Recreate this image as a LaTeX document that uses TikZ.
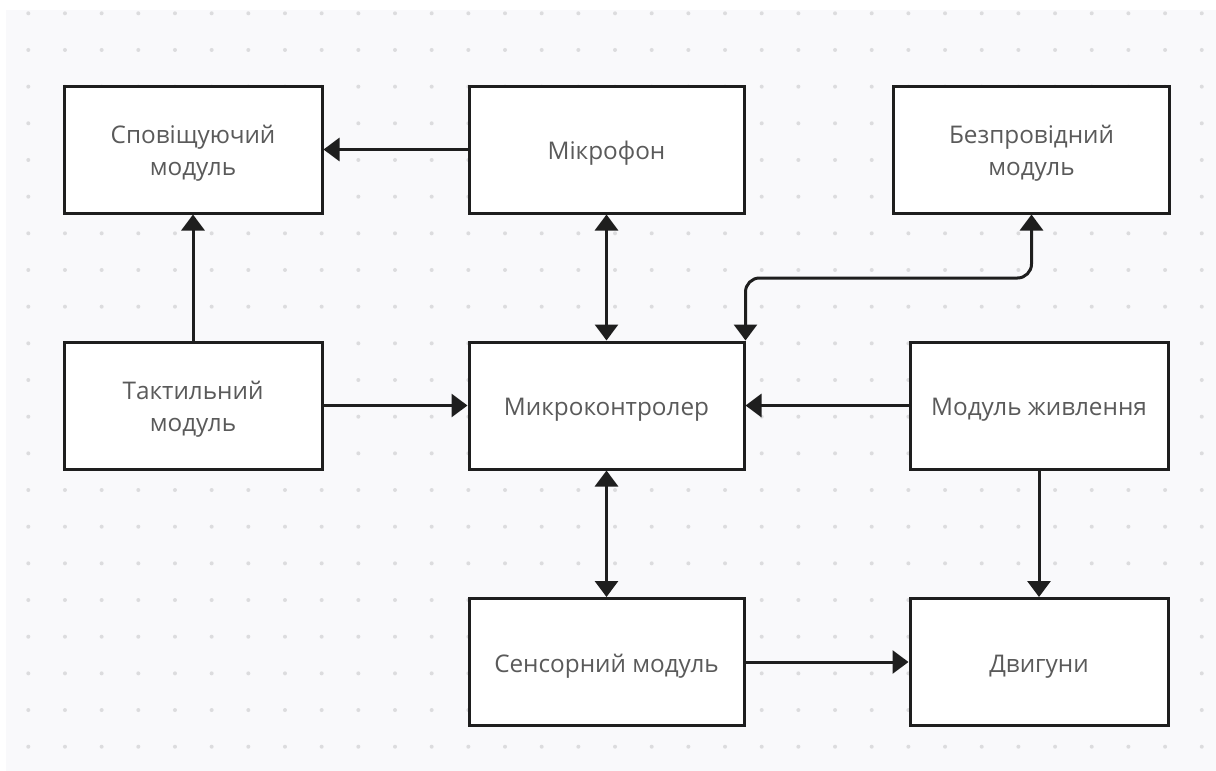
\documentclass[tikz,border=0pt]{standalone}
\usepackage{fontspec}
\setmainfont{Open Sans}
\usetikzlibrary{arrows.meta}
\definecolor{bg}{HTML}{F9F9FB}
\definecolor{dotc}{HTML}{DCDCDE}
\definecolor{txt}{HTML}{5A5A5A}
\definecolor{ln}{HTML}{1E1E1E}
\newcommand\boxlbl[1]{\raisebox{-3.6pt}[\height][\depth]{\begin{tabular}{@{}c@{}}#1\end{tabular}}}
\begin{document}
\begin{tikzpicture}[x=1pt,y=-1pt,
  box/.style={draw=ln,line width=3pt,fill=white,text=txt,
    font=\fontsize{24.3}{32}\selectfont,minimum height=127pt,inner sep=0pt},
  conn/.style={draw=ln,line width=3pt,-{Triangle[length=16pt,width=23pt]}},
  biconn/.style={draw=ln,line width=3pt,{Triangle[length=16pt,width=23pt]}-{Triangle[length=16pt,width=23pt]}}]
\useasboundingbox (0,0) rectangle (1216,771);
\fill[white] (0,0) rectangle (1216,771);
\fill[bg] (6,10) rectangle (1216,771);
\foreach \i in {0,...,32}{\foreach \j in {0,...,20}{\fill[dotc] (28.3+36.67*\i,13.3+36.67*\j) circle[radius=2pt];}}

\node[box,minimum width=258pt] (spov) at (193,149.5) {\boxlbl{Сповіщуючий\\модуль}};
\node[box,minimum width=275pt] (mic) at (606.5,149.5) {\boxlbl{Мікрофон}};
\node[box,minimum width=276pt] (wifi) at (1031.5,149.5) {\boxlbl{Безпровідний\\модуль}};
\node[box,minimum width=258pt] (takt) at (193,405.5) {\boxlbl{Тактильний\\модуль}};
\node[box,minimum width=275pt] (mcu) at (606.5,405.5) {\boxlbl{Микроконтролер}};
\node[box,minimum width=258pt] (power) at (1039,405.5) {\boxlbl{Модуль живлення}};
\node[box,minimum width=275pt] (sens) at (606.5,662) {\boxlbl{Сенсорний модуль}};
\node[box,minimum width=258pt] (motor) at (1039,662) {\boxlbl{Двигуни}};

\coordinate (bend) at (0,278);

\draw[conn] (mic.west) -- (spov.east);
\draw[conn] (takt.north) -- (spov.south);
\draw[biconn] (mic.south) -- (mcu.north);
\draw[biconn,rounded corners=14pt] (mcu.north east) -- (mcu.north east |- bend) -- (wifi.south |- bend) -- (wifi.south);
\draw[conn] (takt.east) -- (mcu.west);
\draw[conn] (power.west) -- (mcu.east);
\draw[biconn] (mcu.south) -- (sens.north);
\draw[conn] (sens.east) -- (motor.west);
\draw[conn] (power.south) -- (motor.north);
\end{tikzpicture}
\end{document}
